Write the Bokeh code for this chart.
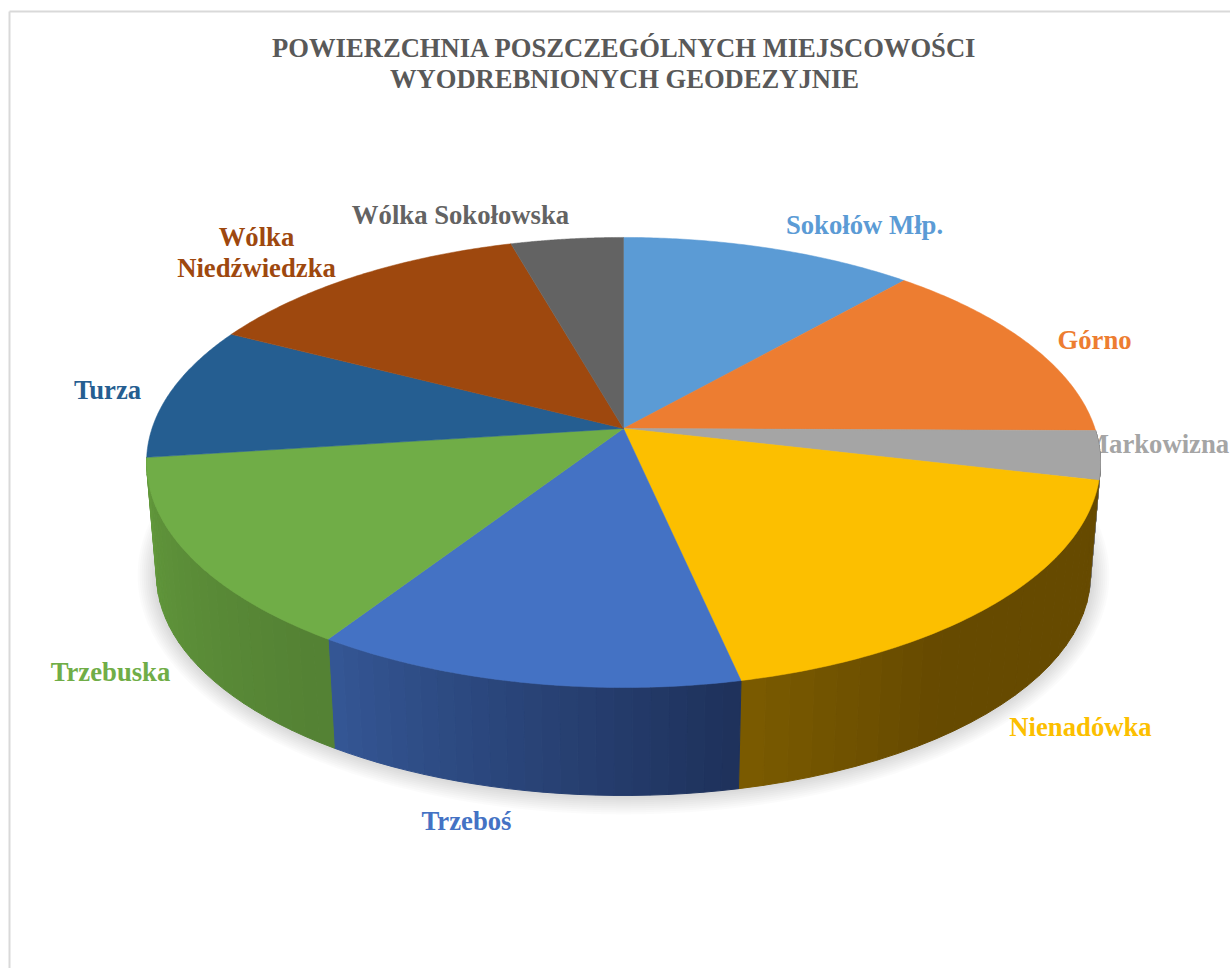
import numpy as np
from bokeh.plotting import figure
from bokeh.embed import file_html
from bokeh.resources import INLINE
from bokeh.core.properties import value

# ---- data (percentage shares)
TITLE = "POWIERZCHNIA POSZCZEGÓLNYCH MIEJSCOWOŚCI\nWYODREBNIONYCH GEODEZYJNIE"
categories = ["Sokołów Młp.", "Górno", "Markowizna", "Nienadówka", "Trzeboś",
              "Trzebuska", "Turza", "Wólka\nNiedźwiedzka", "Wólka Sokołowska"]
shares = [11.5, 13.6, 3.5, 17.9, 12.6, 13.7, 9.6, 13.0, 4.4]

# ---- styles
colors = ["#5b9bd5", "#ed7d31", "#a5a5a5", "#fcbf00", "#4472c4",
          "#70ad47", "#255e91", "#9e480e", "#636363"]
wall_left = {2: (124, 124, 124), 3: (122, 90, 0), 4: (52, 86, 148), 5: (98, 152, 60)}
wall_right = {2: (110, 110, 110), 3: (102, 74, 0), 4: (31, 50, 92), 5: (84, 130, 52)}
wall_ramp = {2: 1.0, 3: 0.37, 4: 1.0, 5: 1.0}

# ---- layout (page pixels)
W, H = 1230, 968
OX, OY = 0, 0
APEX_X, APEX_Y = 623, 428
A, B, K = 471.5, 219.9, 0.151
BOTTOM_SCALE, BOTTOM_SHIFT = 0.979, 113.4
label_x = [864, 1094, 1156, 1080, 466, 110, 107, 256, 460]
label_y = [224, 339, 443, 726, 820, 671, 389, 252, 214]


def top_edge(t):
    u, v = np.sin(t), -np.cos(t)
    d = 1 - K * v
    return A * u / d, B * v / d


def bottom_edge(t):
    X, Y = top_edge(t)
    return X * BOTTOM_SCALE, Y * BOTTOM_SCALE + BOTTOM_SHIFT


total = sum(shares)
edges = np.radians(np.concatenate([[0], np.cumsum(shares)]) / total * 360)

p = figure(width=W, height=H, x_range=(OX, OX + W), y_range=(OY + H, OY),
           output_backend="svg", toolbar_location=None, min_border=0,
           outline_line_color=None, background_fill_color="white")
p.axis.visible = False
p.grid.visible = False

# frame
p.multi_line([[9, 9], [9, 1230]], [[11, 968], [11, 11]], line_color="#d9d9d9", line_width=2)

# title
p.text([624, 624], [47, 78], text=TITLE.split("\n"), text_font=value("Liberation Serif"),
       text_font_style="bold", text_font_size="26.6px", text_color="#595959",
       text_align="center", text_baseline="middle")

# labels (drawn under the pie)
p.text(label_x, label_y, text=categories, text_font=value("Liberation Serif"),
       text_font_style="bold", text_font_size="26.7px", text_color=colors,
       text_align="center", text_baseline="middle", text_line_height=1.03)

# shadow
ring = np.linspace(0, 2 * np.pi, 240)
bx, by = bottom_edge(ring)
cy = (by.max() + by.min()) / 2
for grow in np.arange(1, 20, 2.0):
    sx = 1 + grow / bx.max()
    sy = 1 + grow / (by.max() - cy)
    p.patch(APEX_X + bx * sx, APEX_Y + cy + (by - cy) * sy, fill_color="#000000",
            fill_alpha=0.016, line_color=None)

# walls
for i in wall_left:
    n = 24
    steps = np.linspace(edges[i], edges[i + 1], n + 1)
    c0, c1 = np.array(wall_left[i], float), np.array(wall_right[i], float)
    xs, ys, fills = [], [], []
    for j in range(n):
        tt = np.array([steps[j], steps[j + 1]])
        x0, y0 = top_edge(tt)
        x1, y1 = bottom_edge(tt)
        xs.append(list(APEX_X + np.r_[x0, x1[::-1]]))
        ys.append(list(APEX_Y + np.r_[y0, y1[::-1]]))
        f = min(1.0, (1 - j / (n - 1)) / wall_ramp[i])   # angle runs right to left at the front
        r, g, b = (c0 + (c1 - c0) * f).astype(int)
        fills.append(f"#{r:02x}{g:02x}{b:02x}")
    p.patches(xs, ys, fill_color=fills, line_color=fills, line_width=1.0)

# top faces
xs, ys = [], []
for i in range(len(shares)):
    t = np.linspace(edges[i], edges[i + 1], 80)
    x, y = top_edge(t)
    xs.append(list(APEX_X + np.r_[0, x]))
    ys.append(list(APEX_Y + np.r_[0, y]))
p.patches(xs, ys, fill_color=colors, line_color=colors, line_width=0.5)

open("out.html", "w").write(file_html(p, INLINE))
